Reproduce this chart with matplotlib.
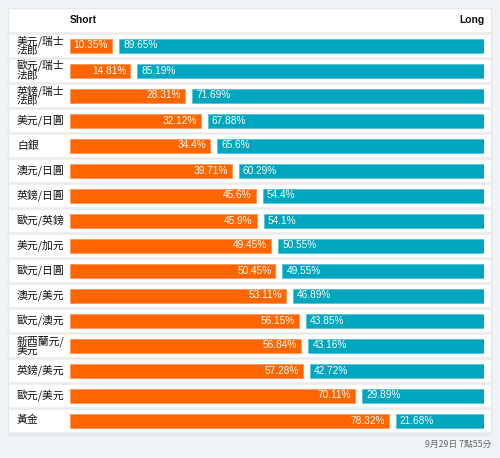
import matplotlib
matplotlib.use("Agg")
import matplotlib.pyplot as plt
from matplotlib.patches import Rectangle
import matplotlib.transforms as mtransforms

# --- Data ---
pairs = ["美元/瑞士\n法郎", "歐元/瑞士\n法郎", "英鎊/瑞士\n法郎", "美元/日圓", "白銀",
         "澳元/日圓", "英鎊/日圓", "歐元/英鎊", "美元/加元", "歐元/日圓",
         "澳元/美元", "歐元/澳元", "新西蘭元/\n美元", "英鎊/美元", "歐元/美元", "黃金"]
short_pct = [10.35, 14.81, 28.31, 32.12, 34.4, 39.71, 45.6, 45.9, 49.45, 50.45,
             53.11, 56.15, 56.84, 57.28, 70.11, 78.32]
long_pct = [89.65, 85.19, 71.69, 67.88, 65.6, 60.29, 54.4, 54.1, 50.55, 49.55,
            46.89, 43.85, 43.16, 42.72, 29.89, 21.68]
timestamp = "9月29日 7點55分"

# --- Style ---
ORANGE = "#ff6600"
TEAL = "#00a5be"
W, H = 500, 458
plt.rcParams['font.family'] = ['Noto Sans CJK TC', 'DejaVu Sans']

fig = plt.figure(figsize=(W / 100, H / 100), dpi=100)
fig.patch.set_facecolor("#f1f4f6")

# white panel (behind the axes)
fig.patches.append(Rectangle((8 / W, 1 - 435 / H), 483 / W, 427 / H,
                             transform=fig.transFigure, facecolor="white",
                             edgecolor="#e3e8eb", linewidth=1, zorder=-5))

# bar area: x 70..484 px, rows from y=33 to 433 px
ax = fig.add_axes([70 / W, 1 - 433 / H, 414 / W, 400 / H])
ax.set_facecolor("none")
for s in ax.spines.values():
    s.set_visible(False)
ax.set_xticks([])
ax.set_yticks([])

n = len(pairs)
gap = 7 / 407
px = (1 + gap) / 414
ax.set_xlim(0, 1 + gap)
ax.set_ylim(n - 0.5, -0.5)

rows = list(range(n))
sf = [v / 100 for v in short_pct]
lf = [v / 100 for v in long_pct]
ax.barh(rows, sf, left=0, height=0.56, color=ORANGE, edgecolor="#ff9a5c", linewidth=0.7)
ax.barh(rows, lf, left=[s + gap for s in sf], height=0.56, color=TEAL,
        edgecolor="#5cc6d6", linewidth=0.7)

lab_tr = mtransforms.blended_transform_factory(ax.transAxes, ax.transData)
for i in rows:
    ax.text(sf[i] - 4 * px, i, f"{short_pct[i]}%", ha="right", va="center",
            color="white", fontsize=7.3, family="Liberation Sans")
    ax.text(sf[i] + gap + 4 * px, i, f"{long_pct[i]}%", ha="left", va="center",
            color="white", fontsize=7.3, family="Liberation Sans")
    ax.text(-53 / 414, i, pairs[i], transform=lab_tr, ha="left", va="center",
            fontsize=7.8, color="#111111", linespacing=0.85, fontweight="medium")

# row separators across the panel
for i in range(n + 1):
    ax.axhline(i - 0.5, xmin=-62 / 414, xmax=421 / 414, color="#ebebeb",
               linewidth=1.8, clip_on=False, zorder=0)

# header
ax.text(0, -1.02, "Short", ha="left", va="center", fontsize=7.4,
        fontweight="bold", family="Liberation Sans", color="#111111")
ax.text(1 + gap, -1.02, "Long", ha="right", va="center", fontsize=7.4,
        fontweight="bold", family="Liberation Sans", color="#111111")

# footer timestamp
fig.text(491 / W, 1 - 444 / H, timestamp, ha="right", va="center",
         fontsize=6.3, color="#666666")

fig.savefig("out.png", dpi=100, facecolor=fig.get_facecolor())
